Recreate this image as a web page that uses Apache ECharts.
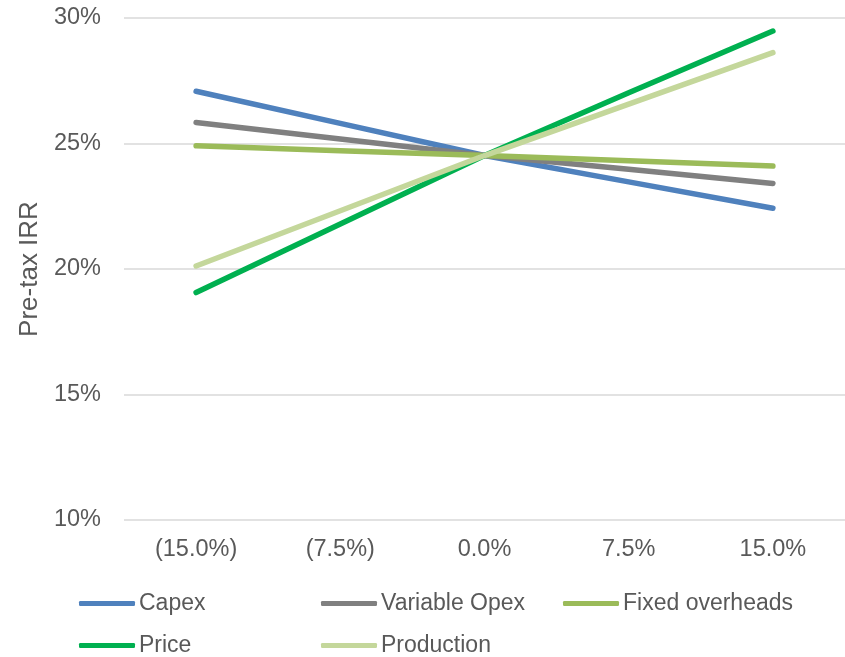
<!DOCTYPE html>
<html>
<head>
<meta charset="utf-8">
<script src="https://cdn.jsdelivr.net/npm/echarts@6/dist/echarts.min.js"></script>
<style>
  html, body { margin: 0; padding: 0; background: #ffffff; }
  #chart { width: 845px; height: 657px; }
</style>
</head>
<body>
<div id="chart"></div>
<script>
// Sensitivity of pre-tax IRR (%) to changes in each input
const categories = ['(15.0%)', '(7.5%)', '0.0%', '7.5%', '15.0%'];
const capex = [27.08, 25.80, 24.52, 23.47, 22.42];
const variableOpex = [25.84, 25.18, 24.52, 23.97, 23.41];
const fixedOverheads = [24.91, 24.71, 24.52, 24.31, 24.10];
const price = [19.06, 21.79, 24.52, 27.02, 29.48];
const production = [20.12, 22.32, 24.52, 26.57, 28.62];
const yTicks = [10, 15, 20, 25, 30];

const FONT = '"Liberation Sans", Arial, sans-serif';
const TEXT = '#595959';

const seriesDefs = [
  { name: 'Capex', data: capex, color: '#4f81bd' },
  { name: 'Variable Opex', data: variableOpex, color: '#808080' },
  { name: 'Fixed overheads', data: fixedOverheads, color: '#9bbb59' },
  { name: 'Price', data: price, color: '#00b050' },
  { name: 'Production', data: production, color: '#c4d79b' }
];

// one legend entry per item so the two-row layout lines up in columns
const legendPos = {
  'Capex': [79, 592],
  'Variable Opex': [321, 592],
  'Fixed overheads': [563, 592],
  'Price': [79, 634],
  'Production': [321, 634]
};

const chart = echarts.init(document.getElementById('chart'), null, { renderer: 'canvas' });

chart.setOption({
  animation: false,
  backgroundColor: '#ffffff',
  grid: { left: 124, top: 18, width: 724, bottom: 137, containLabel: false },
  xAxis: {
    type: 'category',
    data: categories,
    boundaryGap: true,
    axisLine: { show: false },
    axisTick: { show: false },
    axisLabel: { color: TEXT, fontFamily: FONT, fontSize: 23.5, margin: 18 }
  },
  yAxis: {
    type: 'value',
    min: yTicks[0],
    max: yTicks[yTicks.length - 1],
    interval: 5,
    name: 'Pre-tax IRR',
    nameLocation: 'middle',
    nameGap: 80,
    nameTextStyle: { color: TEXT, fontFamily: FONT, fontSize: 26 },
    axisLine: { show: false },
    axisTick: { show: false },
    axisLabel: { color: TEXT, fontFamily: FONT, fontSize: 23.5, margin: 23, formatter: v => v + '%' },
    splitLine: { lineStyle: { color: '#d9d9d9', width: 1.5 } }
  },
  legend: seriesDefs.map(s => ({
    data: [s.name],
    left: legendPos[s.name][0],
    top: legendPos[s.name][1],
    itemWidth: 56,
    itemHeight: 5,
    itemGap: 0,
    icon: 'roundRect',
    textStyle: { color: TEXT, fontFamily: FONT, fontSize: 23, padding: [0, 0, 0, -1] },
    padding: 0,
    selectedMode: false
  })),
  series: seriesDefs.map(s => ({
    name: s.name,
    type: 'line',
    data: s.data,
    color: s.color,
    showSymbol: false,
    symbol: 'none',
    lineStyle: { color: s.color, width: 5.5, cap: 'round', join: 'round' },
    itemStyle: { color: s.color }
  }))
});
</script>
</body>
</html>
